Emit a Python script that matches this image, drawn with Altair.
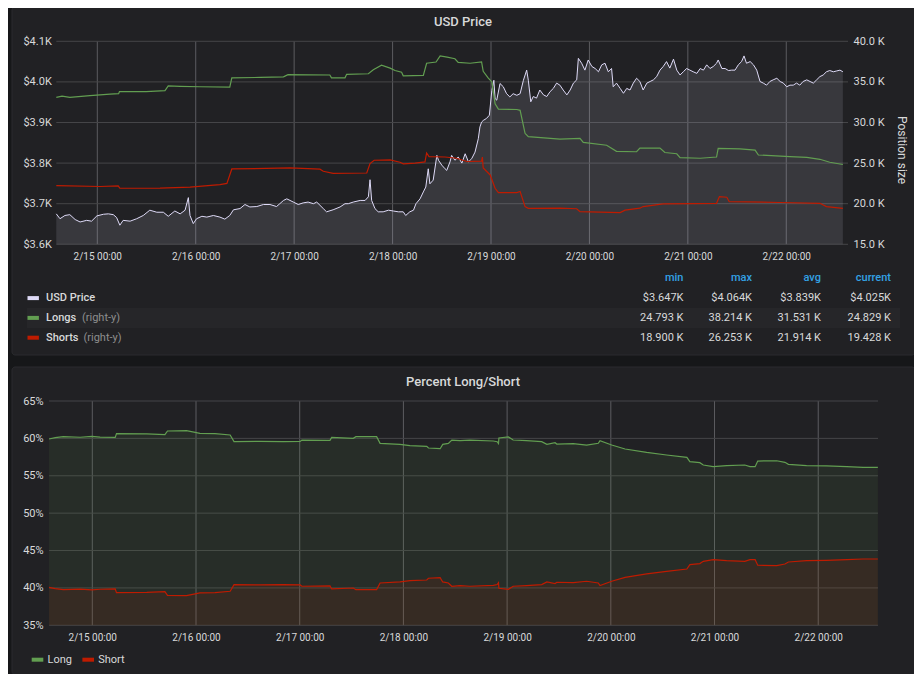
import altair as alt
import pandas as pd

# ---------------------------------------------------------------- data
START = pd.Timestamp("2019-02-14 14:00:00")   # left edge of both panels

# (hours after START, USD price)
price_points = [
    (0.0, 3675), (0.9, 3663), (2.1, 3671), (3.3, 3673), (4.6, 3661), (5.8, 3655), (7.4, 3659),
    (8.6, 3657), (9.9, 3670), (11.5, 3674), (12.7, 3675), (13.9, 3673), (14.7, 3666), (15.5, 3647),
    (16.3, 3659), (18.0, 3657), (19.6, 3663), (21.2, 3671), (22.8, 3684), (24.5, 3679), (26.1, 3679),
    (27.3, 3669), (28.9, 3682), (30.2, 3675), (31.4, 3684), (32.2, 3715), (32.6, 3671), (33.4, 3651),
    (34.2, 3663), (35.5, 3669), (36.7, 3667), (38.3, 3671), (39.9, 3667), (41.1, 3662), (42.3, 3671),
    (43.2, 3685), (44.8, 3688), (46.0, 3698), (47.2, 3692), (48.9, 3693), (50.5, 3698), (52.1, 3698),
    (53.7, 3693), (54.5, 3700), (55.4, 3708), (56.2, 3712), (57.8, 3704), (59.0, 3698), (60.2, 3702),
    (61.4, 3704), (62.7, 3700), (63.5, 3704), (65.1, 3688), (65.9, 3680), (67.5, 3685), (69.2, 3692),
    (70.4, 3700), (71.2, 3700), (72.4, 3704), (74.1, 3708), (75.3, 3708), (76.1, 3717), (76.5, 3759),
    (76.9, 3708), (77.7, 3688), (78.5, 3680), (79.7, 3680), (81.0, 3684), (82.2, 3682), (83.4, 3680),
    (84.6, 3680), (85.2, 3671), (86.2, 3680), (87.1, 3684), (87.7, 3700), (88.7, 3712), (89.5, 3729),
    (90.1, 3741), (90.7, 3786), (91.1, 3749), (91.9, 3758), (92.8, 3819), (93.2, 3807), (94.0, 3795),
    (94.8, 3786), (95.2, 3782), (96.0, 3803), (96.4, 3819), (97.2, 3807), (98.0, 3815), (98.9, 3800),
    (99.7, 3823), (100.5, 3803), (101.3, 3811), (102.1, 3827), (102.9, 3860), (103.3, 3889),
    (103.7, 3901), (104.1, 3905), (104.9, 3910), (105.6, 3918), (106.2, 3979), (106.7, 4004),
    (107.0, 3959), (107.4, 3955), (108.2, 3996), (109.0, 3988), (109.8, 3971), (110.6, 3963),
    (111.4, 3971), (112.3, 3967), (113.1, 3971), (113.9, 4004), (114.7, 4029), (115.1, 4004),
    (115.7, 3951), (116.3, 3964), (117.1, 3960), (117.9, 3980), (118.8, 3968), (119.6, 3964),
    (120.4, 3976), (121.2, 3984), (122.0, 3997), (122.8, 3992), (123.6, 3980), (124.5, 3968),
    (125.3, 3980), (126.1, 3997), (126.9, 4005), (127.3, 4058), (128.1, 4046), (128.9, 4029),
    (129.7, 4054), (130.6, 4038), (131.4, 4033), (132.2, 4025), (133.0, 4042), (133.8, 4046),
    (134.6, 4025), (135.4, 4033), (135.8, 3988), (136.6, 3997), (137.5, 3984), (138.3, 3972),
    (139.1, 3984), (139.9, 3980), (140.7, 3997), (141.5, 4009), (142.3, 4001), (143.1, 3980),
    (144.0, 3997), (144.8, 4001), (145.6, 4005), (146.4, 4013), (147.2, 4029), (148.0, 4038),
    (148.8, 4050), (149.6, 4034), (150.5, 4056), (151.3, 4029), (152.1, 4017), (152.9, 4025),
    (153.7, 4033), (154.5, 4029), (155.3, 4025), (156.2, 4021), (157.0, 4033), (157.8, 4029),
    (158.6, 4042), (159.4, 4033), (160.2, 4038), (161.0, 4046), (161.4, 4054), (162.3, 4033),
    (163.1, 4033), (163.9, 4028), (164.7, 4029), (165.5, 4029), (166.3, 4042), (167.1, 4050),
    (167.7, 4064), (168.3, 4046), (169.2, 4050), (170.0, 4042), (170.8, 4029), (171.6, 4001),
    (172.4, 3997), (173.2, 3992), (174.0, 4001), (174.8, 4005), (175.7, 4009), (176.5, 4001),
    (177.3, 3997), (178.1, 3988), (178.9, 3992), (179.7, 3992), (180.5, 3997), (181.3, 3992),
    (182.1, 4001), (183.0, 4005), (183.8, 4001), (184.6, 3997), (185.4, 4005), (186.2, 4013),
    (187.0, 4017), (187.8, 4025), (188.6, 4028), (189.5, 4025), (190.3, 4027), (191.1, 4029),
    (191.8, 4025),
]

# (hours after START, thousands of contracts)
longs_points = [
    (0.0, 33.10), (1.4, 33.25), (3.3, 33.10), (8.2, 33.30), (13.1, 33.50), (15.2, 33.55), (15.4, 33.80),
    (21.9, 33.80), (26.5, 33.92), (27.3, 34.50), (30.2, 34.45), (35.0, 34.40), (42.3, 34.35),
    (42.8, 35.50), (49.7, 35.55), (55.4, 35.62), (56.5, 35.90), (66.7, 35.85), (67.1, 35.50),
    (70.4, 35.50), (70.8, 35.93), (76.1, 36.00), (77.3, 36.50), (79.3, 37.05), (81.4, 36.70),
    (82.6, 36.40), (84.2, 36.20), (84.6, 35.75), (89.5, 35.80), (90.3, 37.30), (92.6, 37.45),
    (93.6, 38.21), (95.3, 38.05), (97.2, 37.85), (98.0, 37.40), (100.9, 37.30), (103.7, 37.45),
    (104.1, 36.30), (105.3, 35.50), (106.2, 35.00), (107.0, 32.30), (107.8, 31.65), (112.3, 31.60),
    (113.1, 31.50), (114.3, 28.67), (115.1, 28.25), (122.8, 27.95), (127.7, 28.05), (128.5, 27.55),
    (134.2, 27.20), (136.6, 26.45), (141.5, 26.40), (142.3, 26.85), (147.2, 26.85), (148.4, 26.30),
    (151.3, 26.15), (152.1, 25.67), (157.0, 25.60), (161.0, 25.75), (161.4, 26.82), (166.7, 26.75),
    (170.4, 26.60), (171.2, 26.00), (178.9, 25.80), (183.0, 25.70), (186.2, 25.47), (188.6, 25.10),
    (191.8, 24.83),
]
shorts_points = [
    (0.0, 22.22), (10.7, 22.12), (15.1, 22.20), (15.5, 21.90), (25.3, 21.92), (32.6, 22.05),
    (39.9, 22.35), (41.6, 22.50), (42.8, 24.28), (57.0, 24.40), (64.3, 24.25), (65.1, 24.00),
    (67.5, 23.74), (75.7, 23.78), (76.5, 24.95), (77.5, 25.35), (81.4, 25.40), (83.8, 25.10),
    (84.6, 24.90), (87.5, 25.00), (89.9, 25.15), (90.3, 26.25), (90.9, 25.80), (94.8, 25.75),
    (97.6, 25.60), (100.1, 25.20), (103.7, 25.25), (103.9, 25.75), (104.1, 24.40), (105.8, 23.54),
    (107.0, 21.90), (107.8, 21.36), (112.3, 21.36), (113.1, 21.50), (114.3, 19.64), (115.1, 19.43),
    (122.8, 19.45), (126.9, 19.38), (127.7, 19.02), (132.6, 18.96), (137.5, 18.90), (138.7, 19.20),
    (142.3, 19.45), (143.1, 19.65), (148.0, 19.97), (161.0, 20.05), (161.7, 20.87), (163.5, 20.80),
    (164.1, 20.25), (176.5, 20.15), (186.2, 20.05), (187.8, 19.64), (191.8, 19.43),
]

# (hours after START, percent long); short = 100 - long
pct_long_points = [
    (0.0, 59.92), (1.4, 60.10), (3.3, 60.23), (7.2, 60.15), (9.9, 60.27), (11.8, 60.18), (15.3, 60.14),
    (15.6, 60.63), (22.6, 60.60), (26.8, 60.50), (27.4, 60.99), (31.8, 61.03), (33.8, 60.80),
    (34.9, 60.67), (38.4, 60.63), (41.9, 60.45), (42.8, 59.56), (48.8, 59.60), (54.2, 59.56),
    (58.1, 59.60), (58.5, 59.78), (65.0, 59.74), (65.4, 60.14), (70.4, 60.01), (71.0, 60.23),
    (75.8, 60.23), (76.6, 59.34), (81.2, 59.20), (83.5, 59.03), (87.4, 58.94), (87.8, 58.71),
    (90.5, 58.62), (91.1, 59.20), (92.4, 59.34), (93.2, 59.78), (95.1, 59.69), (97.4, 59.78),
    (102.8, 59.65), (103.7, 59.55), (104.0, 59.30), (104.1, 60.05), (106.3, 60.19), (107.4, 59.78),
    (110.5, 59.69), (114.0, 59.56), (115.2, 59.20), (117.1, 59.42), (117.5, 59.24), (121.3, 59.29),
    (124.4, 59.11), (127.1, 59.34), (127.5, 59.69), (130.2, 59.11), (133.3, 58.58), (138.3, 58.13),
    (142.9, 57.78), (147.6, 57.47), (148.3, 56.89), (150.6, 56.75), (151.4, 56.44), (153.7, 56.22),
    (156.8, 56.35), (161.0, 56.44), (162.2, 56.22), (163.4, 56.22), (164.0, 56.97), (168.4, 57.01),
    (170.3, 56.80), (171.1, 56.53), (175.3, 56.35), (179.9, 56.31), (184.6, 56.22), (188.4, 56.13),
    (191.8, 56.13),
]

tick_days = [15, 16, 17, 18, 19, 20, 21, 22]          # February, 00:00
price_ticks = [3600, 3700, 3800, 3900, 4000, 4100]
position_ticks = [15, 20, 25, 30, 35, 40]
pct_ticks = [35, 40, 45, 50, 55, 60, 65]

panel_titles = ["USD Price", "Percent Long/Short"]
right_axis_title = "Position size"
legend_series = ["USD Price", "Longs", "Shorts"]
legend_suffix = "(right-y)"
legend_columns = ["min", "max", "avg", "current"]
legend_values = [
    ["$3.647K", "$4.064K", "$3.839K", "$4.025K"],
    ["24.793 K", "38.214 K", "31.531 K", "24.829 K"],
    ["18.900 K", "26.253 K", "21.914 K", "19.428 K"],
]
pct_series = ["Long", "Short"]

# ---------------------------------------------------------------- style
PAGE = "#161719"
PANEL = "#212124"
BORDER = "#2a2b2e"
STRIPE = "#262629"
HGRID = "#454548"
VGRID = "#5c5c60"
TXT = "#d8d9da"
MUTED = "#8e8e8e"
HEAD = "#33a2e5"
PRICE_C = "#dedaf7"
LONG_C = "#629e51"
SHORT_C = "#bf1b00"
FONT = "Roboto"
W, H = 906, 666


def stamp(h):
    return (START + pd.Timedelta(hours=h)).round("s").strftime("%Y-%m-%dT%H:%M:%S")


def frame(points):
    return pd.DataFrame({"t": [stamp(h) for h, _ in points], "v": [v for _, v in points]})


price_df = frame(price_points)
longs_df = frame(longs_points)
shorts_df = frame(shorts_points)
pct_df = frame(pct_long_points)
days_df = pd.DataFrame({"t": [f"2019-02-{d:02d}T00:00:00" for d in tick_days]})
tick_dt = [alt.DateTime(year=2019, month=2, date=d) for d in tick_days]

T0 = alt.DateTime(year=2019, month=2, date=14, hours=14)
T1 = alt.DateTime(year=2019, month=2, date=22, hours=13, minutes=50)


def x_top():
    return alt.Scale(domain=[T0, T1], range=[48.3, 835.0], nice=False)


def x_bot():
    return alt.Scale(domain=[T0, T1], range=[41.1, 870.0], nice=False)


def y_price():
    return alt.Scale(domain=[3600, 4100], range=[236.3, 33.3], nice=False, zero=False)


def y_pos():
    return alt.Scale(domain=[15, 40], range=[236.3, 33.3], nice=False, zero=False)


def y_pct():
    return alt.Scale(domain=[35, 65], range=[617.3, 393.0], nice=False, zero=False)


def ax(**kw):
    base = dict(domain=False, ticks=False, grid=False, title=None, labelFont=FONT,
                labelColor=TXT, labelFontSize=11, zindex=1, labelFlush=False,
                labelOverlap=False, labelBound=False)
    base.update(kw)
    return alt.Axis(**base)


x_top_axis = ax(orient="bottom", offset=236.3 - H, values=tick_dt, format="%-m/%d %H:%M",
                labelFontSize=10, labelPadding=12, labelBaseline="middle")
x_bot_axis = ax(orient="bottom", offset=617.3 - H, values=tick_dt, format="%-m/%d %H:%M",
                labelFontSize=10, labelPadding=12, labelBaseline="middle")
price_axis = ax(orient="left", offset=-48.3, values=price_ticks, labelPadding=5,
                labelExpr="'$' + format(datum.value / 1000, '.1f') + 'K'")
pos_axis = ax(orient="right", offset=835.0 - W, values=position_ticks, labelPadding=10,
              labelAlign="left", labelExpr="format(datum.value, '.1f') + ' K'")
pct_axis = ax(orient="left", offset=-41.1, values=pct_ticks, labelPadding=6,
              labelExpr="datum.value + '%'")

one = pd.DataFrame({"k": [0]})

# ---------------------------------------------------------------- panels
panel_top = alt.Chart(one).mark_rect(fill=PANEL, stroke=BORDER, strokeWidth=1, cornerRadius=3).encode(
    x=alt.value(4), x2=alt.value(907), y=alt.value(-1), y2=alt.value(347))
panel_bot = alt.Chart(one).mark_rect(fill=PANEL, stroke=BORDER, strokeWidth=1, cornerRadius=3).encode(
    x=alt.value(4), x2=alt.value(907), y=alt.value(359), y2=alt.value(666.5))
stripe = alt.Chart(one).mark_rect(fill=STRIPE).encode(
    x=alt.value(19), x2=alt.value(892), y=alt.value(300), y2=alt.value(320))

# ---------------------------------------------------------------- grids
vgrid_top = alt.Chart(days_df).mark_rule(color=VGRID, strokeWidth=1).encode(
    x=alt.X("t:T", scale=x_top(), axis=None), y=alt.value(33.3), y2=alt.value(236.3))
hgrid_top = alt.Chart(pd.DataFrame({"v": price_ticks})).mark_rule(color=HGRID, strokeWidth=1).encode(
    y=alt.Y("v:Q", scale=y_price(), axis=None), x=alt.value(48.3), x2=alt.value(840.0))
vgrid_bot = alt.Chart(days_df).mark_rule(color=VGRID, strokeWidth=1).encode(
    x=alt.X("t:T", scale=x_bot(), axis=None), y=alt.value(393.0), y2=alt.value(617.3))
hgrid_bot = alt.Chart(pd.DataFrame({"v": pct_ticks})).mark_rule(color=HGRID, strokeWidth=1).encode(
    y=alt.Y("v:Q", scale=y_pct(), axis=None), x=alt.value(41.1), x2=alt.value(870.0))

# ---------------------------------------------------------------- top panel series
price_area = alt.Chart(price_df).mark_area(fill=PRICE_C, fillOpacity=0.12, strokeWidth=0).encode(
    x=alt.X("t:T", scale=x_top(), axis=x_top_axis),
    y=alt.Y("v:Q", scale=y_price(), axis=price_axis),
    y2=alt.datum(3600))
price_line = alt.Chart(price_df).mark_line(color=PRICE_C, strokeWidth=1).encode(
    x=alt.X("t:T", scale=x_top(), axis=None),
    y=alt.Y("v:Q", scale=y_price(), axis=None))
longs_line = alt.Chart(longs_df).mark_line(color=LONG_C, strokeWidth=1.2).encode(
    x=alt.X("t:T", scale=x_top(), axis=None),
    y=alt.Y("v:Q", scale=y_pos(), axis=pos_axis))
shorts_line = alt.Chart(shorts_df).mark_line(color=SHORT_C, strokeWidth=1.2).encode(
    x=alt.X("t:T", scale=x_top(), axis=None),
    y=alt.Y("v:Q", scale=y_pos(), axis=None))

# ---------------------------------------------------------------- bottom panel series
pct_base = alt.Chart(pct_df).transform_calculate(s="100 - datum.v")
long_area = pct_base.mark_area(fill=LONG_C, fillOpacity=0.1, strokeWidth=0).encode(
    x=alt.X("t:T", scale=x_bot(), axis=x_bot_axis),
    y=alt.Y("v:Q", scale=y_pct(), axis=pct_axis),
    y2=alt.datum(35))
short_area = pct_base.mark_area(fill=SHORT_C, fillOpacity=0.1, strokeWidth=0).encode(
    x=alt.X("t:T", scale=x_bot(), axis=None),
    y=alt.Y("s:Q", scale=y_pct(), axis=None),
    y2=alt.datum(35))
long_line = pct_base.mark_line(color=LONG_C, strokeWidth=1.2).encode(
    x=alt.X("t:T", scale=x_bot(), axis=None),
    y=alt.Y("v:Q", scale=y_pct(), axis=None))
short_line = pct_base.mark_line(color=SHORT_C, strokeWidth=1.2).encode(
    x=alt.X("t:T", scale=x_bot(), axis=None),
    y=alt.Y("s:Q", scale=y_pct(), axis=None))

# ---------------------------------------------------------------- titles
title_style = dict(font=FONT, fontSize=13, fontWeight=500, color=TXT, align="center", baseline="middle")
title_top = alt.Chart(pd.DataFrame({"txt": [panel_titles[0]]})).mark_text(**title_style).encode(
    text="txt:N", x=alt.value(455), y=alt.value(13.5))
title_bot = alt.Chart(pd.DataFrame({"txt": [panel_titles[1]]})).mark_text(**title_style).encode(
    text="txt:N", x=alt.value(455), y=alt.value(373.7))
pos_title = alt.Chart(pd.DataFrame({"txt": [right_axis_title]})).mark_text(
    font=FONT, fontSize=12, color=TXT, align="center", baseline="middle", angle=90).encode(
    text="txt:N", x=alt.value(893.7), y=alt.value(142))

# ---------------------------------------------------------------- legend table (top panel)
row_scale = alt.Scale(domain=[0, 3], range=[270.3, 329.7], nice=False, zero=False)
col_scale = alt.Scale(domain=[0, 1, 2, 3], range=[675.5, 744.0, 813.0, 883.0], nice=False, zero=False)

series_df = pd.DataFrame({"row": [1, 2, 3], "name": legend_series})
head_df = pd.DataFrame({"row": [0] * 4, "col": [0, 1, 2, 3], "txt": legend_columns})
vals_df = pd.DataFrame({
    "row": [r + 1 for r in range(3) for _ in range(4)],
    "col": [c for _ in range(3) for c in range(4)],
    "txt": [v for rowv in legend_values for v in rowv],
})
suffix_long_df = pd.DataFrame({"row": [2], "txt": [legend_suffix]})
suffix_short_df = pd.DataFrame({"row": [3], "txt": [legend_suffix]})

leg_icons = alt.Chart(series_df).mark_point(shape="stroke", size=130, strokeWidth=4, filled=False, opacity=1).encode(
    x=alt.value(25.2),
    y=alt.Y("row:Q", scale=row_scale, axis=None),
    color=alt.Color("name:N", scale=alt.Scale(domain=legend_series, range=[PRICE_C, LONG_C, SHORT_C]), legend=None))
leg_name = alt.Chart(series_df).mark_text(font=FONT, fontSize=11, fontWeight=500, color=TXT, align="left", baseline="middle").encode(
    text="name:N", x=alt.value(38.0), y=alt.Y("row:Q", scale=row_scale, axis=None))
suffix_style = dict(font=FONT, fontSize=11, color=MUTED, align="left", baseline="middle")
leg_suffix_long = alt.Chart(suffix_long_df).mark_text(**suffix_style).encode(
    text="txt:N", x=alt.value(74.0), y=alt.Y("row:Q", scale=row_scale, axis=None))
leg_suffix_short = alt.Chart(suffix_short_df).mark_text(**suffix_style).encode(
    text="txt:N", x=alt.value(75.5), y=alt.Y("row:Q", scale=row_scale, axis=None))
leg_head = alt.Chart(head_df).mark_text(font=FONT, fontSize=11, fontWeight=500, color=HEAD, align="right", baseline="middle").encode(
    text="txt:N", x=alt.X("col:Q", scale=col_scale, axis=None), y=alt.Y("row:Q", scale=row_scale, axis=None))
leg_vals = alt.Chart(vals_df).mark_text(font=FONT, fontSize=11, color=TXT, align="right", baseline="middle").encode(
    text="txt:N", x=alt.X("col:Q", scale=col_scale, axis=None), y=alt.Y("row:Q", scale=row_scale, axis=None))

# ---------------------------------------------------------------- legend (bottom panel)
pct_leg_df = pd.DataFrame({"i": [0, 1], "name": pct_series})
item_scale = alt.Scale(domain=[0, 1], range=[29.5, 80.2], nice=False, zero=False)
pct_icons = alt.Chart(pct_leg_df).mark_point(shape="stroke", size=135, strokeWidth=4, filled=False, opacity=1).encode(
    x=alt.X("i:Q", scale=item_scale, axis=None), y=alt.value(651.7),
    color=alt.Color("name:N", scale=alt.Scale(domain=pct_series, range=[LONG_C, SHORT_C]), legend=None))
pct_text = alt.Chart(pct_leg_df).mark_text(font=FONT, fontSize=11, color=TXT, align="left", baseline="middle", dx=10).encode(
    text="name:N", x=alt.X("i:Q", scale=item_scale, axis=None), y=alt.value(651.7))

chart = alt.layer(
    panel_top, panel_bot, stripe,
    vgrid_top, hgrid_top, vgrid_bot, hgrid_bot,
    price_area, price_line, longs_line, shorts_line,
    long_area, short_area, long_line, short_line,
    title_top, title_bot, pos_title,
    leg_icons, leg_name, leg_suffix_long, leg_suffix_short, leg_head, leg_vals,
    pct_icons, pct_text,
).resolve_scale(
    x="independent", y="independent", color="independent"
).properties(
    width=W, height=H, padding=0, autosize=alt.AutoSizeParams(type="none")
).configure(
    background=PAGE
).configure_view(stroke=None)

chart.save("out.html", embed_options={"renderer": "svg", "actions": False})
